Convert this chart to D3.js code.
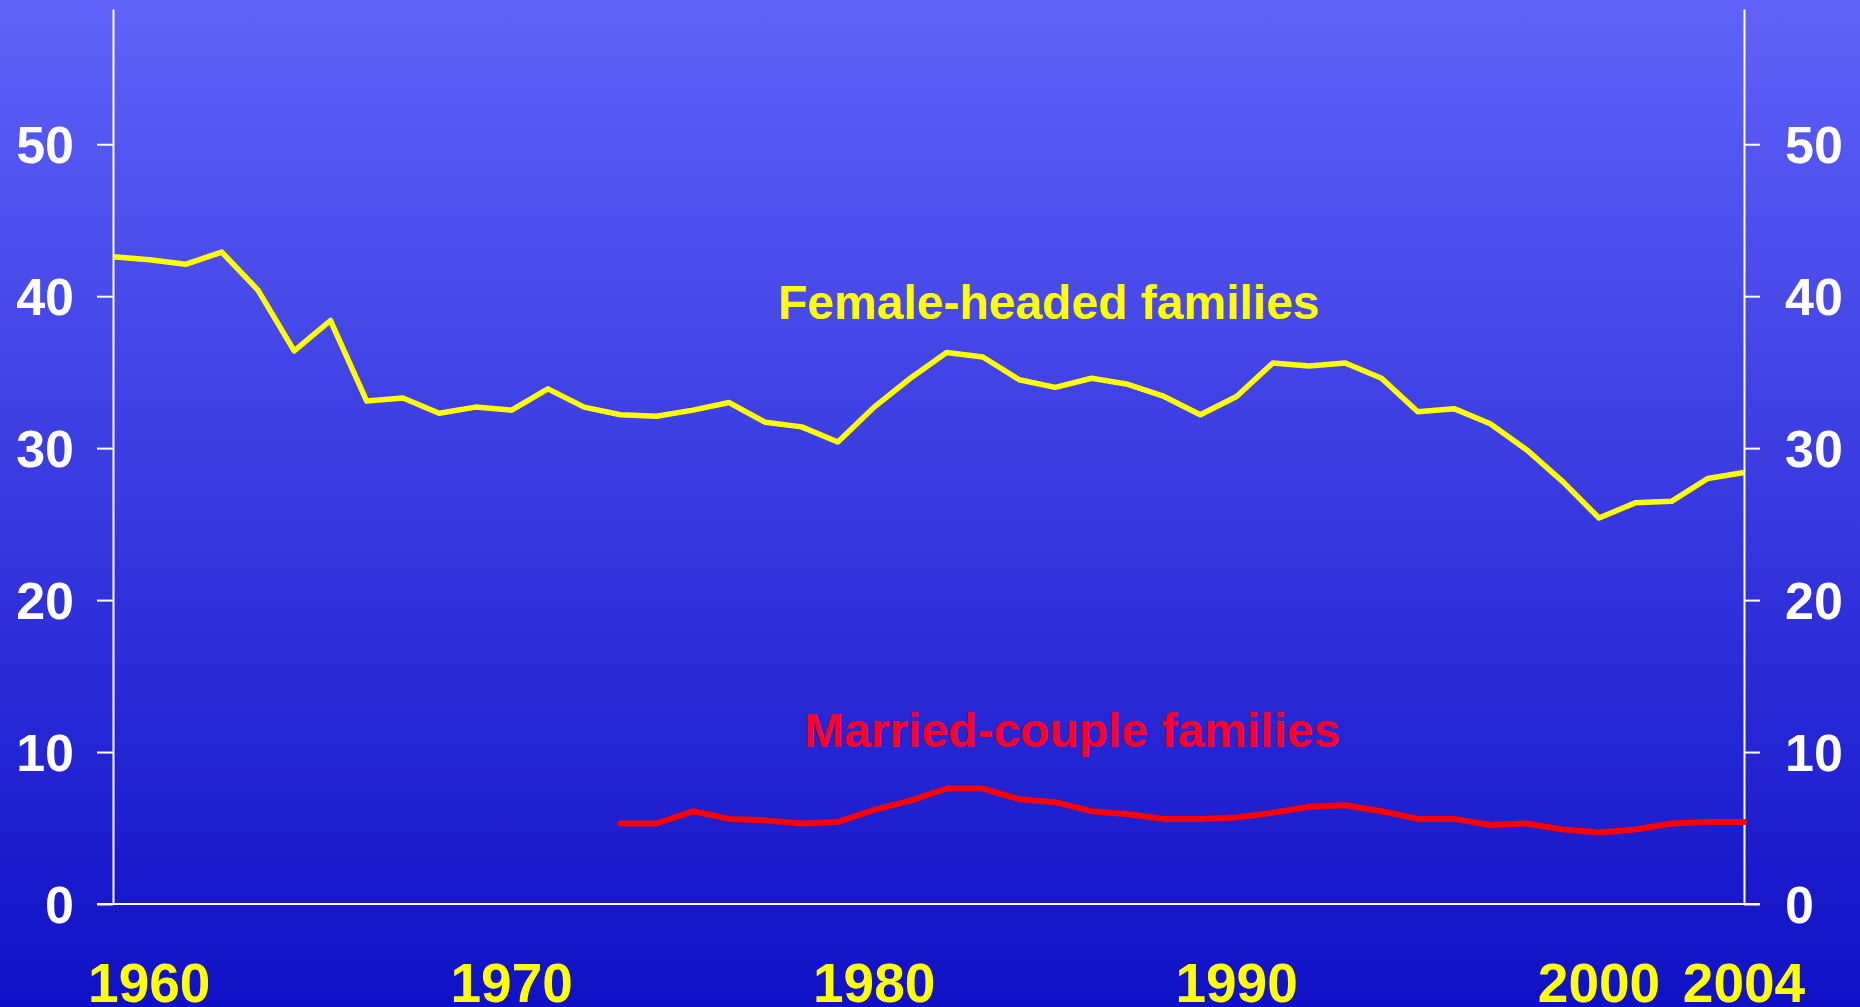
<!DOCTYPE html>
<html lang="en">
<head>
  <meta charset="UTF-8">
  <title>Poverty rates by family type, 1959-2004</title>
  <script src="https://d3js.org/d3.v7.min.js"></script>
  <style>
    body { margin: 0; background: #1010c4; overflow: hidden; }
    svg { display: block; }
    text { font-family: "Liberation Sans", Arial, sans-serif; font-weight: bold; }
  </style>
</head>
<body>
  <svg width="1860" height="1007"></svg>

  <script>
    // poverty rate, percent
    const femaleYears = d3.range(1959, 2005);
    const femaleValues = [
      42.6, 42.4, 42.1, 42.9, 40.4, 36.4, 38.4, 33.1, 33.3, 32.3,
      32.7, 32.5, 33.9, 32.7, 32.2, 32.1, 32.5, 33.0, 31.7, 31.4,
      30.4, 32.7, 34.6, 36.3, 36.0, 34.5, 34.0, 34.6, 34.2, 33.4,
      32.2, 33.4, 35.6, 35.4, 35.6, 34.6, 32.4, 32.6, 31.6, 29.9,
      27.8, 25.4, 26.4, 26.5, 28.0, 28.4
    ];
    const marriedYears = d3.range(1973, 2005);
    const marriedValues = [
      5.3, 5.3, 6.1, 5.6, 5.5, 5.3, 5.4, 6.2, 6.8, 7.6,
      7.6, 6.9, 6.7, 6.1, 5.9, 5.6, 5.6, 5.7, 6.0, 6.4,
      6.5, 6.1, 5.6, 5.6, 5.2, 5.3, 4.9, 4.7, 4.9, 5.3,
      5.4, 5.4
    ];
    const yearTicks = [1960, 1970, 1980, 1990, 2000, 2004];
    const valueTicks = [0, 10, 20, 30, 40, 50];

    const svg = d3.select("svg");
    const W = 1860, H = 1007;

    // background gradient
    const grad = svg.append("defs").append("linearGradient")
      .attr("id", "bg").attr("x1", 0).attr("y1", 0).attr("x2", 0).attr("y2", 1);
    grad.append("stop").attr("offset", "0%").attr("stop-color", "#6062f8");
    grad.append("stop").attr("offset", "100%").attr("stop-color", "#1010c6");
    svg.append("rect").attr("width", W).attr("height", H).attr("fill", "url(#bg)");

    const x = d3.scaleLinear().domain([1959, 2004]).range([113, 1744]);
    const y = d3.scaleLinear().domain([0, 58.9]).range([904, 9]);

    // left and right value axes
    const leftAxis = svg.append("g")
      .attr("transform", `translate(${x(1959)},0)`)
      .call(d3.axisLeft(y).tickValues(valueTicks).tickSize(16).tickPadding(23).tickSizeOuter(0));
    const rightAxis = svg.append("g")
      .attr("transform", `translate(${x(2004)},0)`)
      .call(d3.axisRight(y).tickValues(valueTicks).tickSize(16).tickPadding(25).tickSizeOuter(0));

    [leftAxis, rightAxis].forEach(g => {
      g.select(".domain").attr("stroke", "#fff").attr("stroke-width", 2);
      g.selectAll(".tick line").attr("stroke", "#fff").attr("stroke-width", 2);
      g.selectAll(".tick text")
        .attr("fill", "#fff")
        .attr("font-size", 52)
        .attr("dy", "0.36em");
    });

    // zero line runs across, out past both axes
    svg.append("line")
      .attr("x1", x(1959) - 16).attr("x2", x(2004) + 16)
      .attr("y1", y(0)).attr("y2", y(0))
      .attr("stroke", "#fff").attr("stroke-width", 2);

    // year labels
    svg.selectAll(".year")
      .data(yearTicks)
      .enter()
      .append("text")
      .attr("class", "year")
      .attr("x", d => x(d))
      .attr("y", 1002)
      .attr("text-anchor", "middle")
      .attr("font-size", 55)
      .attr("fill", "#ffff00")
      .text(d => d);

    const line = d3.line()
      .x(d => x(d[0]))
      .y(d => y(d[1]));

    svg.append("path")
      .datum(d3.zip(femaleYears, femaleValues))
      .attr("d", line)
      .attr("fill", "none")
      .attr("stroke", "#ffff00")
      .attr("stroke-width", 5.5)
      .attr("stroke-linejoin", "round");

    svg.append("path")
      .datum(d3.zip(marriedYears, marriedValues))
      .attr("d", line)
      .attr("fill", "none")
      .attr("stroke", "#ff0000")
      .attr("stroke-width", 6)
      .attr("stroke-linejoin", "round")
      .attr("stroke-linecap", "round");

    // series labels
    svg.append("text")
      .attr("x", 778).attr("y", 319)
      .attr("font-size", 48)
      .attr("fill", "#ffff00")
      .text("Female-headed families");

    svg.append("text")
      .attr("x", 804).attr("y", 747)
      .attr("font-size", 48)
      .attr("fill", "#ff0028")
      .text("Married-couple families");
  </script>
</body>
</html>
